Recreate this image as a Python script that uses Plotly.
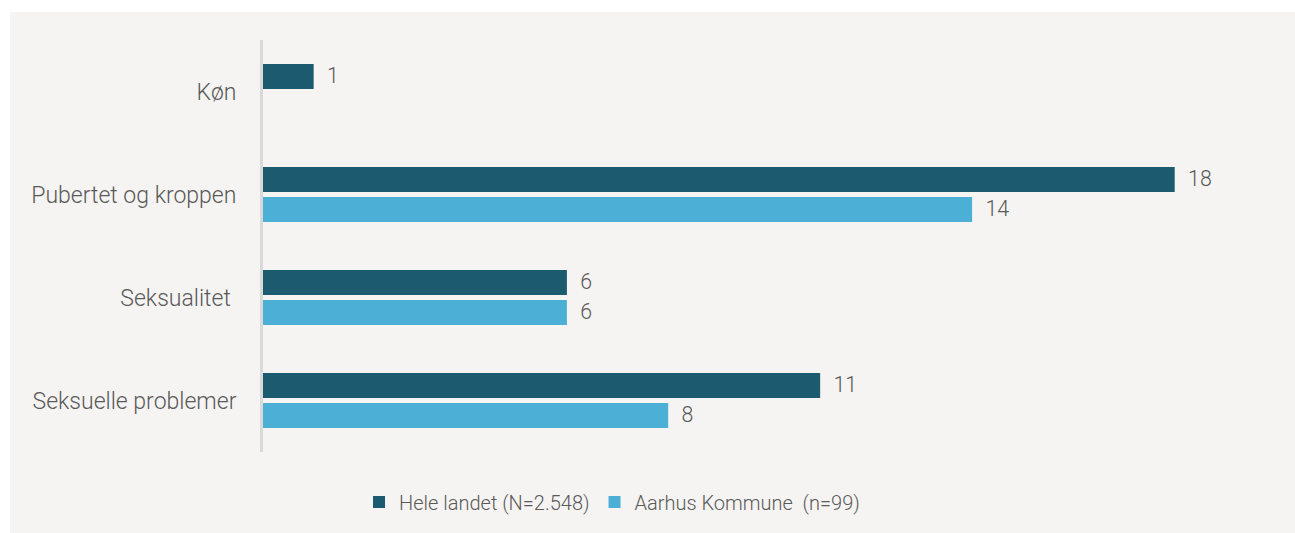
import plotly.graph_objects as go

# Categories and shares (%) for each group
categories = ["Køn", "Pubertet og kroppen", "Seksualitet\u00a0", "Seksuelle problemer"]
hele_landet = [1, 18, 6, 11]
aarhus = [None, 14, 6, 8]
series_names = ["Hele landet (N=2.548)", "Aarhus Kommune\u00a0\u00a0(n=99)"]

DARK = "#1c5a70"
LIGHT = "#4cb0d6"
TEXT = "#595959"
BG = "#f5f4f2"
FONT = "Roboto"

W, H = 1295, 533
L, R, T, B = 263, 19, 40, 81
PW, PH = W - L - R, H - T - B


def labels(values):
    return ["" if v is None else "\u00a0\u00a0" + str(v) for v in values]


fig = go.Figure()
for name, vals, col in [(series_names[0], hele_landet, DARK),
                        (series_names[1], aarhus, LIGHT)]:
    fig.add_trace(go.Bar(
        y=categories, x=vals, name=name, orientation="h",
        marker=dict(color=col, line=dict(width=0)),
        text=labels(vals), textposition="outside", cliponaxis=False,
        textfont=dict(size=23, color=TEXT, family=FONT, weight=300),
    ))

fig.update_layout(
    width=W, height=H,
    margin=dict(l=L, r=R, t=T, b=B, autoexpand=False),
    paper_bgcolor="white", plot_bgcolor=BG,
    barmode="group", bargap=0.417, bargroupgap=0.167,
    font=dict(family=FONT, size=20, color=TEXT, weight=300),
    showlegend=True,
    legend=dict(orientation="h", xref="paper", x=(612 - L) / PW, xanchor="center",
                yref="paper", y=(T + PH - 502) / PH, yanchor="middle",
                font=dict(size=20, color=TEXT, family=FONT, weight=300),
                traceorder="normal", itemwidth=30, bgcolor="rgba(0,0,0,0)"),
    xaxis=dict(range=[0, 20], showgrid=False, zeroline=False,
               showticklabels=False, ticks=""),
    yaxis=dict(autorange="reversed", showgrid=False, zeroline=False,
               showline=True, linecolor="#d9d9d9", linewidth=3,
               ticks="outside", ticklen=19, tickcolor="rgba(0,0,0,0)",
               tickfont=dict(size=23, color=TEXT, family=FONT, weight=300)),
    shapes=[
        # light panel behind the whole chart, leaving a thin white border
        dict(type="rect", xref="paper", yref="paper", layer="below",
             x0=(10 - L) / PW, x1=(W - L) / PW + 0.01,
             y0=-B / PH - 0.01, y1=(PH + T - 12) / PH,
             fillcolor=BG, line=dict(width=0)),
    ],
)

fig.write_html("out.html")
